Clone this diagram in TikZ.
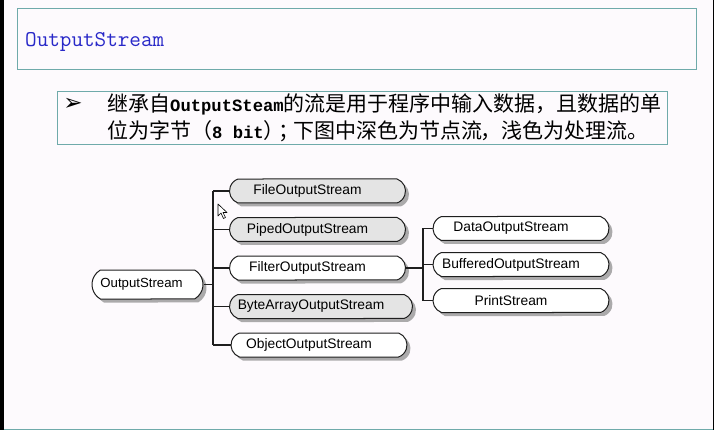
\documentclass[tikz,border=0pt]{standalone}
\usepackage{fontspec}
\newfontfamily\cjkfont{Noto Sans CJK SC}
\newfontfamily\codefont{Liberation Mono}
\newfontfamily\labelfont{Liberation Sans}
\newfontfamily\symfont{DejaVu Sans}
\usetikzlibrary{positioning,shapes.misc,shadows}
\definecolor{pagebg}{HTML}{FDFAFD}
\definecolor{frameteal}{HTML}{6FAAAA}
\definecolor{titleblue}{HTML}{2828C8}
\definecolor{nodegrey}{HTML}{E4E4E4}
\definecolor{linedark}{HTML}{1E1E1E}
\tikzset{
  stream/.style={
    draw=linedark,
    line width=1pt,
    rounded rectangle,
    rounded rectangle arc length=140,
    minimum height=24pt,
    minimum width=180pt,
    inner xsep=2pt,
    fill=white,
    drop shadow={shadow xshift=3.5pt,shadow yshift=-3.5pt,fill=black!50,opacity=.65},
    font=\labelfont\fontsize{13.8}{16}\selectfont
  },
  child stream/.style={
    stream,
    execute at end node={\hspace*{20pt}}
  },
  node stream/.style={
    child stream,
    fill=nodegrey
  },
  tree line/.style={
    draw=linedark,
    line width=1.2pt
  }
}

\begin{document}
\begin{tikzpicture}[%
        x=1pt,
        y=1pt,
        on grid,
        node distance=38.5pt]
      \useasboundingbox (0,0) rectangle (714,-430);
      \fill[pagebg] (0,0) rectangle (714,-430);
      \fill[black] (0,0) rectangle (4,-430);
      \fill[black] (713,0) rectangle (714,-430);
      \fill[frameteal] (4,-428.5) rectangle (713,-430);
      % title and text frames
      \draw[frameteal,line width=1pt] (17,-9) rectangle (696,-70);
      \draw[frameteal,line width=1pt] (57,-92) rectangle (667,-145);
      \node[anchor=west,text=titleblue,inner sep=0pt] (title) at (25,-42)
           {\ttfamily\fontsize{22.5}{27}\selectfont OutputStream};
      \node[inner sep=0pt] (bullet) at (73,-104) {\symfont\fontsize{23}{24}\selectfont ➢};
      \node[anchor=west,inner sep=0pt] (line_1) at (107,-104)
           {\cjkfont\fontsize{21}{27}\selectfont 继承自{\codefont\bfseries\fontsize{17.2}{27}\selectfont OutputSteam}的流是用于程序中输入数据，且数据的单};
      \node[anchor=west,inner sep=0pt] (line_2) at (107,-131)
           {\cjkfont\fontsize{21}{27}\selectfont 位为字节（{\codefont\bfseries\fontsize{17.2}{27}\selectfont 8 bit}）\kern-6pt；\kern-6pt 下图中深色为节点流\kern-2pt，浅色为处理流。};
      % stream tree
      \node[stream,minimum width=113pt,minimum height=29pt,inner xsep=1pt,
            rounded rectangle arc length=120,
            font=\labelfont\fontsize{13.2}{16}\selectfont,
            execute at end node={\hspace*{12pt}}] (root) at (147.5,-284.5) {OutputStream};
      \node[node stream]  (fileout)   at (317.5,-191)           {FileOutputStream};
      \node[node stream]  (pipedout)  [below=of fileout]        {PipedOutputStream};
      \node[child stream] (filterout) [below=of pipedout]       {FilterOutputStream};
      \node[node stream,minimum width=187pt]
                          (bytesout)  [below=of filterout,xshift=3.5pt] {ByteArrayOutputStream};
      \node[child stream] (objectout) [below=of bytesout,xshift=-2pt]   {ObjectOutputStream};
      \node[child stream] (dataout)   at (521,-228.5)           {DataOutputStream};
      \node[child stream] (bufout)    [below=36pt of dataout]   {BufferedOutputStream};
      \node[child stream] (printout)  [below=36pt of bufout]    {PrintStream};
      \coordinate (trunk)  at (213,-284.5);
      \coordinate (branch) at (423,-264.5);
      \draw[tree line] (root.east) -- (trunk);
      \draw[tree line] (trunk |- fileout.west) -- (trunk |- objectout.west);
      \foreach \n in {fileout,pipedout,filterout,bytesout,objectout}
        \draw[tree line] (trunk |- \n.west) -- (\n.west);
      \draw[tree line] (filterout.east) -- (branch |- filterout.east);
      \draw[tree line] (branch |- dataout.west) -- (branch |- printout.west);
      \foreach \n in {dataout,bufout,printout}
        \draw[tree line] (branch |- \n.west) -- (\n.west);
      % mouse pointer
      \draw[black,fill=white,line width=.6pt,line join=round]
        (218,-204) -- (218,-216) -- (221,-213) -- (223.5,-218.5) -- (225.5,-217.5)
        -- (223,-212.5) -- (227,-212.5) -- cycle;
    \end{tikzpicture}
\end{document}
